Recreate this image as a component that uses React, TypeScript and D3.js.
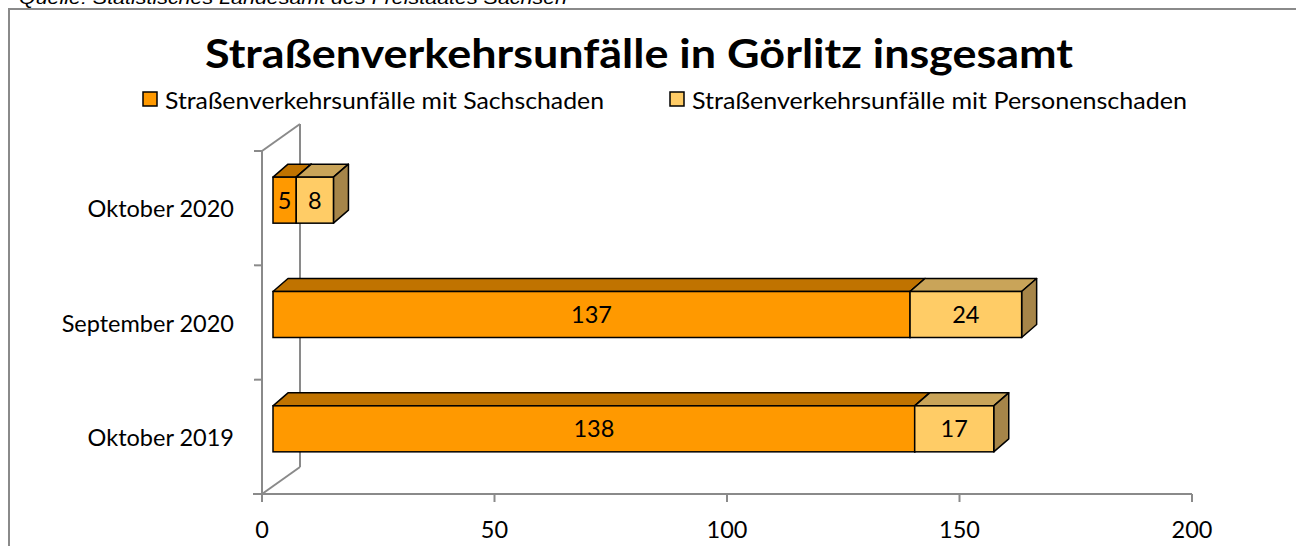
import React from "react";
import * as d3 from "d3";

const categories = ["Oktober 2020", "September 2020", "Oktober 2019"];
const seriesNames = [
  "Straßenverkehrsunfälle mit Sachschaden",
  "Straßenverkehrsunfälle mit Personenschaden",
];
const sachschaden = [5, 137, 138];
const personenschaden = [8, 24, 17];
const xTicks = [0, 50, 100, 150, 200];

const title = "Straßenverkehrsunfälle in Görlitz insgesamt";
const source = "Quelle: Statistisches Landesamt des Freistaates Sachsen";

const FONT = "Lato, 'Open Sans', sans-serif";
const GRAY = "#8a8a8a";
const LABEL_SIZE = 23.5;

const colors = [
  { front: "#FF9900", top: "#C07300", side: "#A66400" },
  { front: "#FFCC66", top: "#C9A459", side: "#A68549" },
];

export default function App() {
  const W = 1296;
  const H = 546;
  const x = d3.scaleLinear().domain([0, 200]).range([262, 1192]);
  const y = d3.scaleBand().domain(categories).range([151, 494]).paddingInner(0).paddingOuter(0);
  const wallDx = 38;
  const wallDy = -27;
  const barShiftX = 11;
  const barShiftY = -8;
  const depthX = 15;
  const depthY = -13;
  const barH = 46;
  const x0 = x(0);
  const yTop = y.range()[0];
  const yBot = y.range()[1];
  const yTickPos = [...categories.map((c) => y(c)!), yBot];

  const data = categories.map((c, i) => [sachschaden[i], personenschaden[i]]);

  const bars: React.ReactNode[] = [];
  data.forEach((vals, ci) => {
    const cy = y(categories[ci])! + y.bandwidth() / 2 + barShiftY;
    const top = cy - barH / 2;
    const bot = cy + barH / 2;
    let acc = 0;
    vals.forEach((v, si) => {
      const xa = x(acc) + barShiftX;
      const xb = x(acc + v) + barShiftX;
      acc += v;
      const col = colors[si];
      const topFace = `M${xa},${top} L${xa + depthX},${top + depthY} L${xb + depthX},${top + depthY} L${xb},${top} Z`;
      const sideFace = `M${xb},${top} L${xb + depthX},${top + depthY} L${xb + depthX},${bot + depthY} L${xb},${bot} Z`;
      bars.push(
        <g key={`${ci}-${si}`}>
          <path d={topFace} fill={col.top} stroke="#000" strokeWidth={1.5} strokeLinejoin="round" />
          <path d={sideFace} fill={col.side} stroke="#000" strokeWidth={1.5} strokeLinejoin="round" />
          <rect x={xa} y={top} width={xb - xa} height={barH} fill={col.front} stroke="#000" strokeWidth={1.5} />
          <text
            x={(xa + xb) / 2}
            y={cy + 8.5}
            textAnchor="middle"
            fontFamily={FONT}
            fontSize={LABEL_SIZE}
            fill="#000"
          >
            {v}
          </text>
        </g>
      );
    });
  });

  return (
    <svg width={W} height={H} style={{ position: "absolute", left: 0, top: 0, background: "#fff", overflow: "hidden" }}>
      <rect x={0} y={0} width={W} height={H} fill="#fff" />
      <text x={19} y={4} fontFamily="'Liberation Sans', Arial, sans-serif" fontStyle="italic" fontSize={19} textLength={548} lengthAdjust="spacingAndGlyphs" fill="#000">
        {source}
      </text>
      <path d={`M9,${H + 5} L9,9 L${W + 5},9`} fill="none" stroke={GRAY} strokeWidth={2} />

      <text x={639} y={68} textAnchor="middle" fontFamily={FONT} fontWeight="bold" fontSize={40} textLength={868} lengthAdjust="spacingAndGlyphs" fill="#000">
        {title}
      </text>

      {/* legend */}
      {[143, 670].map((lx, i) => (
        <g key={i}>
          <rect x={lx} y={92} width={14} height={14} fill={colors[i].front} stroke="#000" strokeWidth={1.5} />
          <text x={lx + 22} y={108.5} fontFamily={FONT} fontSize={23} textLength={i === 0 ? 439 : 495} lengthAdjust="spacingAndGlyphs" fill="#000">
            {seriesNames[i]}
          </text>
        </g>
      ))}

      {/* walls */}
      <g stroke={GRAY} strokeWidth={2} fill="none">
        <line x1={x0} y1={yTop} x2={x0} y2={yBot + 8} />
        <line x1={x0 + wallDx} y1={yTop + wallDy} x2={x0 + wallDx} y2={yBot + wallDy} />
        <line x1={x0} y1={yTop} x2={x0 + wallDx} y2={yTop + wallDy} />
        <line x1={x0} y1={yBot} x2={x0 + wallDx} y2={yBot + wallDy} />
        <line x1={x0 - 9} y1={yBot} x2={x(200)} y2={yBot} />
        {yTickPos.map((t, i) => (
          <line key={i} x1={x0 - 8} y1={t} x2={x0} y2={t} />
        ))}
        {xTicks.map((t) => (
          <line key={t} x1={x(t)} y1={yBot} x2={x(t)} y2={yBot + 8} />
        ))}
      </g>

      {xTicks.map((t) => (
        <text key={t} x={x(t)} y={538} textAnchor="middle" fontFamily={FONT} fontSize={LABEL_SIZE} fill="#000">
          {t}
        </text>
      ))}
      {categories.map((c) => (
        <text key={c} x={234} y={y(c)! + y.bandwidth() / 2 + 9} textAnchor="end" fontFamily={FONT} fontSize={LABEL_SIZE} fill="#000">
          {c}
        </text>
      ))}

      {bars}
    </svg>
  );
}
